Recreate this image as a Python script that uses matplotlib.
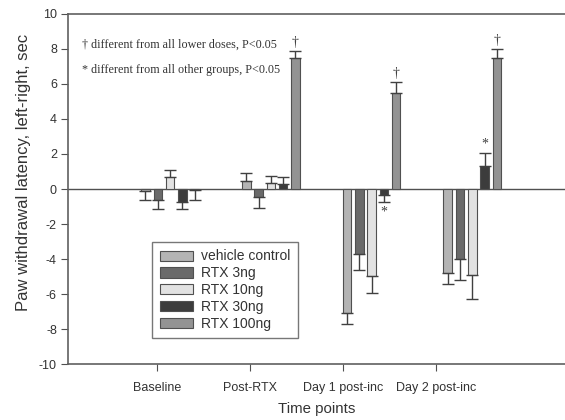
import matplotlib
matplotlib.use("Agg")
import matplotlib.pyplot as plt
import numpy as np

plt.rcParams['axes.unicode_minus'] = False

# data
timepoints = ['Baseline', 'Post-RTX', 'Day 1 post-inc', 'Day 2 post-inc']
groups = ['vehicle control', 'RTX 3ng', 'RTX 10ng', 'RTX 30ng', 'RTX 100ng']
vehicle = [-0.1, 0.45, -7.1, -4.8]
rtx3 = [-0.65, -0.45, -3.7, -4.0]
rtx10 = [0.7, 0.35, -4.95, -4.9]
rtx30 = [-0.75, 0.3, -0.35, 1.3]
rtx100 = [-0.05, 7.5, 5.5, 7.5]
vehicle_err = [0.55, 0.47, 0.63, 0.65]
rtx3_err = [0.5, 0.62, 0.95, 1.2]
rtx10_err = [0.37, 0.38, 1.0, 1.4]
rtx30_err = [0.38, 0.4, 0.4, 0.78]
rtx100_err = [0.55, 0.38, 0.6, 0.5]
# significance marks: (timepoint index, group index, symbol)
marks = [(1, 4, '\u2020'), (2, 4, '\u2020'), (3, 4, '\u2020'), (2, 3, '*'), (3, 3, '*')]

values = [vehicle, rtx3, rtx10, rtx30, rtx100]
errors = [vehicle_err, rtx3_err, rtx10_err, rtx30_err, rtx100_err]
colors = ['#b4b4b4', '#6a6a6a', '#e2e2e2', '#3c3c3c', '#939393']

fig = plt.figure(figsize=(5.65, 4.2), dpi=100)
ax = fig.add_axes([0.1204, 0.1333, 0.8796, 0.8334])

x = np.arange(len(timepoints))
step = 0.122
width = 0.085
edge = '#505050'

for k, (vals, errs) in enumerate(zip(values, errors)):
    pos = x + (k - 2) * step
    vals = np.array(vals)
    errs = np.array(errs)
    lower = np.where(vals < 0, errs, 0)
    upper = np.where(vals >= 0, errs, 0)
    ax.bar(pos, vals, width, color=colors[k], edgecolor=edge, linewidth=0.8,
           label=groups[k], zorder=2)
    ax.errorbar(pos, vals, yerr=[lower, upper], fmt='none', ecolor='#404040',
                elinewidth=1.0, capsize=4.5, capthick=1.0, zorder=3)

for t, g, sym in marks:
    v = values[g][t]
    e = errors[g][t]
    xp = x[t] + (g - 2) * step
    if v >= 0:
        ax.text(xp, v + e + 0.12, sym, ha='center', va='bottom', fontsize=10,
                family='Liberation Serif', color='#404040')
    else:
        ax.text(xp, v - e - 0.2, sym, ha='center', va='top', fontsize=10,
                family='Liberation Serif', color='#404040')

ax.axhline(0, color='#505050', linewidth=1.0, zorder=1)

ax.set_ylim(-10, 10)
ax.set_xlim(-1.013, 3.92)
ax.set_yticks(np.arange(-10, 11, 2))
ax.set_xticks(-0.13 + 0.924 * x)
ax.set_xticklabels(timepoints)
ax.tick_params(axis='both', direction='out', length=5, color='#505050',
               labelsize=9, labelcolor='#333333', pad=3)
ax.tick_params(axis='x', pad=8)

for side in ['left', 'bottom', 'top']:
    ax.spines[side].set_color('#606060')
    ax.spines[side].set_linewidth(1.2)
ax.spines['right'].set_visible(False)

ax.set_ylabel('Paw withdrawal latency, left-right, sec', fontsize=12,
              color='#333333', family='Liberation Sans')
ax.yaxis.set_label_coords(-0.074, 0.546)
ax.set_xlabel('Time points', fontsize=10.8, color='#333333',
              family='Liberation Sans', labelpad=6)
for lbl in ax.get_xticklabels() + ax.get_yticklabels():
    lbl.set_family('Liberation Sans')

ax.text(0.028, 0.911, '\u2020 different from all lower doses, P<0.05',
        transform=ax.transAxes, fontsize=8.7, family='Liberation Serif',
        color='#333333', va='center')
ax.text(0.028, 0.84, '* different from all other groups, P<0.05',
        transform=ax.transAxes, fontsize=8.7, family='Liberation Serif',
        color='#333333', va='center')

leg = ax.legend(loc='upper left', bbox_to_anchor=(0.169, 0.349),
                prop={'family': 'Liberation Sans', 'size': 10},
                handlelength=2.4, handleheight=0.75, labelspacing=0.2,
                borderpad=0.55, handletextpad=0.6, fancybox=False,
                framealpha=1, edgecolor='#777777', borderaxespad=0)
leg.get_frame().set_linewidth(1.0)
for txt in leg.get_texts():
    txt.set_color('#333333')

plt.savefig('out.png', dpi=100)
